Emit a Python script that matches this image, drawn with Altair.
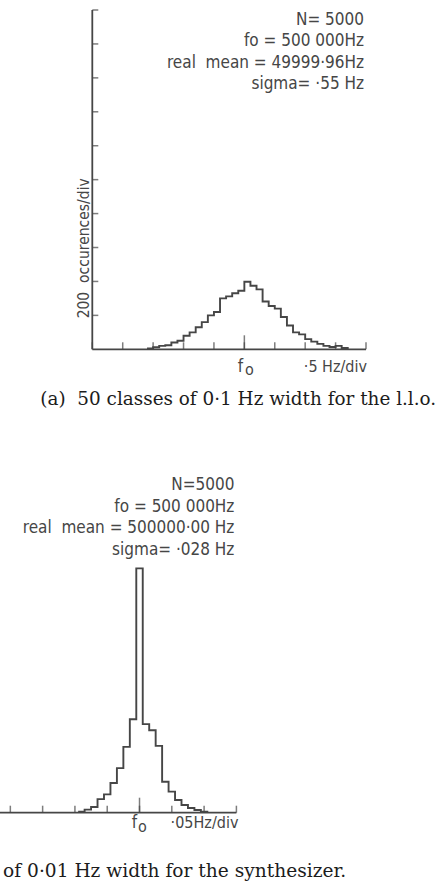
import altair as alt
import pandas as pd

W, H = 439, 885
INK = "#464646"
SANS = "Liberation Sans Narrow, DejaVu Sans Condensed, Roboto Condensed, Liberation Sans"
SERIF = "DejaVu Serif, Liberation Serif"

# Panel (a): local oscillator, classes of 0.1 Hz; frequency offsets from f0 in Hz
a_first_edge = -1.6
a_class_width = 0.1
a_counts = [5, 12, 20, 24, 40, 50, 80, 100, 130, 160, 200, 220, 300, 312, 330, 345,
            398, 375, 353, 282, 255, 240, 190, 140, 100, 88, 60, 45, 32, 20, 14, 20, 8]
a_x_ticks = [-2.5, -2.0, -1.5, -1.0, -0.5, 0.0, 0.5, 1.0, 1.5, 2.0]
a_y_ticks = [200, 400, 600, 800, 1000, 1200, 1400, 1600, 1800, 2000]
a_notes = ["N= 5000", "fo = 500 000Hz", "real\u00a0 mean = 49999·96Hz", "sigma= ·55 Hz"]
a_unit = "·5 Hz/div"
a_caption = "(a)\u00a0 50 classes of 0·1 Hz width for the l.l.o."
a_y_title = "200\u00a0 occurences/div"

# Panel (b): synthesizer, classes of 0.01 Hz
b_first_edge = -0.095
b_class_width = 0.01
b_counts = [6, 18, 34, 80, 108, 175, 263, 388, 551, 1440, 522, 486, 394, 182, 124,
            75, 45, 28, 16, 6]
b_x_ticks = [-0.2, -0.15, -0.1, -0.05, 0.0, 0.05, 0.1, 0.15]
b_notes = ["N=5000", "fo = 500 000Hz", "real\u00a0 mean = 500000·00 Hz", "sigma= ·028 Hz"]
b_unit = "·05Hz/div"
b_caption = "of 0·01 Hz width for the synthesizer."


def outline(first_edge, width, counts):
    """Step outline of a histogram: left edge of each class, then a closing zero."""
    edges = [round(first_edge + i * width, 4) for i in range(len(counts) + 1)]
    return pd.DataFrame({"hz": edges, "n": list(counts) + [0]})


one = alt.Chart(pd.DataFrame({"k": [0]}))


def at(xv, yv):
    return dict(x=alt.XDatum(xv, axis=None), y=alt.YDatum(yv, axis=None))


def panel(df, xs, ys, x_ticks, x_end, f0_len, notes, note_x, note_dy,
          unit, unit_dx, unit_dy, f_dx, f_dy, o_dx, o_dy,
          caption, cap_x, cap_align, cap_dy, cap_size,
          y_ticks=None, y_top=None, y_title=None):
    x_lo, x_hi = x_ticks[0], x_end
    layers = []

    # histogram outline
    layers.append(alt.Chart(df).mark_line(
        interpolate="step-after", color=INK, strokeWidth=1.9
    ).encode(
        x=alt.X("hz:Q", scale=xs, axis=None),
        y=alt.Y("n:Q", scale=ys, axis=None),
    ))

    # frequency axis: base line and inward ticks
    lo = x_lo if y_ticks is not None else xs.domain[0]
    layers.append(one.mark_rule(color=INK, strokeWidth=1.8).encode(
        x=alt.XDatum(lo, axis=None), x2=alt.X2Datum(x_hi),
        y=alt.YDatum(0, axis=None)))
    layers.append(alt.Chart(pd.DataFrame({"hz": x_ticks})).mark_tick(
        orient="vertical", size=7, thickness=1.5, color=INK, yOffset=-3.5
    ).encode(x=alt.X("hz:Q", scale=xs, axis=None), y=alt.YDatum(0, axis=None)))
    layers.append(one.mark_tick(
        orient="vertical", size=f0_len, thickness=1.5, color=INK,
        yOffset=-f0_len / 2
    ).encode(**at(0, 0)))

    # occurrences axis, where it is drawn
    if y_ticks is not None:
        layers.append(one.mark_rule(color=INK, strokeWidth=1.8).encode(
            x=alt.XDatum(x_lo, axis=None), y=alt.YDatum(0, axis=None),
            y2=alt.Y2Datum(y_top)))
        layers.append(alt.Chart(pd.DataFrame({"n": y_ticks})).mark_tick(
            orient="horizontal", size=6, thickness=1.5, color=INK, xOffset=3
        ).encode(x=alt.XDatum(x_lo, axis=None),
                 y=alt.Y("n:Q", scale=ys, axis=None)))
        layers.append(one.mark_text(
            text=y_title, angle=270, align="left", baseline="middle",
            dx=-3, dy=-8, font=SANS, fontSize=15.5, color=INK
        ).encode(**at(x_lo, y_ticks[0])))

    # statistics block, f0 label, scale note, caption
    layers.append(one.mark_text(
        text=notes, align="right", baseline="alphabetic", lineHeight=21.5,
        font=SANS, fontSize=17, color=INK, dx=-2, dy=note_dy
    ).encode(**at(note_x, 2000)))
    layers.append(one.mark_text(
        text="f", font=SANS, fontSize=17, color=INK, align="center",
        baseline="alphabetic", dx=f_dx, dy=f_dy
    ).encode(**at(0, 0)))
    layers.append(one.mark_text(
        text="o", font=SANS, fontSize=16, color=INK, align="center",
        baseline="alphabetic", dx=o_dx, dy=o_dy
    ).encode(**at(0, 0)))
    layers.append(one.mark_text(
        text=unit, font=SANS, fontSize=16, color=INK, align="right",
        baseline="alphabetic", dx=unit_dx, dy=unit_dy
    ).encode(**at(x_hi, 0)))
    layers.append(one.mark_text(
        text=caption, font=SERIF, fontSize=cap_size, color="#1c1c1c",
        align=cap_align, baseline="alphabetic", dy=cap_dy
    ).encode(**at(cap_x, 0)))
    return alt.layer(*layers)


a_x = alt.Scale(domain=[-2.5, 2.0], range=[92.3, 366.0], nice=False, zero=False)
a_y = alt.Scale(domain=[0, 2000], range=[349.3, 10.0], nice=False)
b_x = alt.Scale(domain=[-0.216, 0.15], range=[0.0, 236.4], nice=False, zero=False)
b_y = alt.Scale(domain=[0, 2000], range=[812.7, 473.4], nice=False)

panel_a = panel(outline(a_first_edge, a_class_width, a_counts), a_x, a_y,
                a_x_ticks, 2.0, 14, a_notes, 2.0, 14.5,
                a_unit, 1, 22.5, -4, 22.4, 5, 26,
                a_caption, -0.1, "center", 55.7, 18.4,
                y_ticks=a_y_ticks, y_top=2000, y_title=a_y_title)

panel_b = panel(outline(b_first_edge, b_class_width, b_counts), b_x, b_y,
                b_x_ticks, 0.15, 15, b_notes, 0.15, 16.6,
                b_unit, 2, 15.5, -5, 15.3, 3, 19,
                b_caption, 0.32, "right", 64.5, 18.6)

chart = alt.layer(panel_a, panel_b).resolve_scale(
    x="independent", y="independent"
).properties(
    width=W, height=H, padding=0, background="white",
    autosize=alt.AutoSizeParams(type="none"),
).configure_view(stroke=None)

chart.save("out.html", embed_options={"renderer": "svg", "actions": False})
